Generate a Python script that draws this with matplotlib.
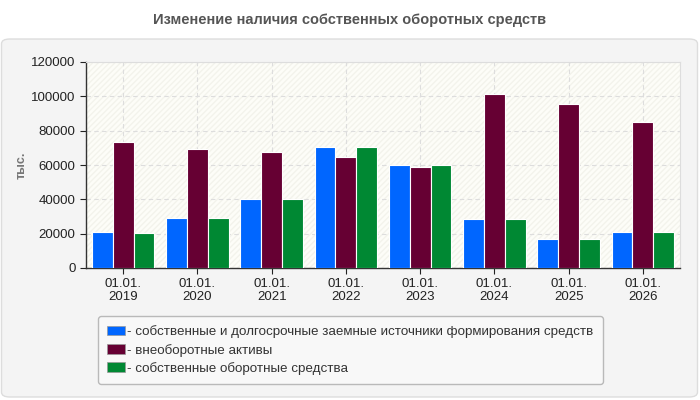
import numpy as np
import matplotlib.pyplot as plt
from matplotlib.patches import FancyBboxPatch, Rectangle, Patch

plt.rcParams['font.family'] = ['Liberation Sans', 'DejaVu Sans']

# data (тыс.)
dates = ['01.01.\n2019', '01.01.\n2020', '01.01.\n2021', '01.01.\n2022',
         '01.01.\n2023', '01.01.\n2024', '01.01.\n2025', '01.01.\n2026']
own_long_sources = [21200, 29300, 40400, 70700, 60200, 28700, 17100, 21200]
non_current_assets = [73600, 69500, 67800, 64900, 59000, 101600, 95700, 85300]
own_working_capital = [20600, 29300, 40400, 70700, 60200, 28700, 17100, 21200]

series_names = ['- собственные и долгосрочные заемные источники формирования средств',
                '- внеоборотные активы',
                '- собственные оборотные средства']
colors = ['#0066ff', '#660033', '#008833']

W, H = 700, 400
fig = plt.figure(figsize=(7, 4), dpi=100)

# outer panel
panel = FancyBboxPatch((1.5 / W, 3 / H), 696 / W, 358 / H,
                       boxstyle='round,pad=0,rounding_size=0.012',
                       transform=fig.transFigure, facecolor='#f4f4f4',
                       edgecolor='#dddddd', linewidth=1, zorder=-10)
fig.patches.append(panel)

fig.text(0.5, 1 - 20 / H, 'Изменение наличия собственных оборотных средств',
         ha='center', va='center', fontsize=10.5, fontweight='bold', color='#555555')

ax = fig.add_axes([86 / W, 1 - 268 / H, (680 - 86) / W, (268 - 62) / H])
ax.set_facecolor('#fdfdf8')
ax.add_patch(Rectangle((0, 0), 1, 1, transform=ax.transAxes, facecolor='none',
                       edgecolor='#f3f3ec', hatch='//////', linewidth=0, zorder=0))

x = np.arange(len(dates))
bw = 0.28
for i, (vals, c) in enumerate(zip([own_long_sources, non_current_assets, own_working_capital], colors)):
    ax.bar(x + (i - 1) * bw, vals, width=bw, color=c, edgecolor='white',
           linewidth=0.8, zorder=3)

ax.set_xlim(-0.5, len(dates) - 0.5)
ax.set_ylim(0, 120000)
ax.set_yticks(np.arange(0, 120001, 20000))
ax.set_xticks(x)
ax.set_xticklabels(dates, fontsize=9.5, color='#222222', linespacing=1.15)
ax.tick_params(axis='y', labelsize=9.5, colors='#222222', length=4, width=0.8)
ax.tick_params(axis='x', length=4, width=0.8, colors='#222222', pad=3)
ax.grid(True, color='#dddddd', linestyle=(0, (4, 3)), linewidth=0.8, zorder=1)
ax.set_axisbelow(True)
for s in ['top', 'right']:
    ax.spines[s].set_color('#dddddd')
for s in ['left', 'bottom']:
    ax.spines[s].set_color('#333333')
    ax.spines[s].set_linewidth(1)

fig.text(22 / W, 1 - 165 / H, 'тыс.', rotation=90, ha='center', va='center',
         fontsize=9, fontweight='bold', color='#777777')

handles = [Patch(facecolor=c, edgecolor='#999999', linewidth=0.5) for c in colors]
leg = fig.legend(handles, series_names, loc='upper left',
                 bbox_to_anchor=(98 / W, 1 - 316 / H), borderaxespad=0,
                 fontsize=9.6, frameon=True, handlelength=1.3, handleheight=0.7,
                 handletextpad=0.2, labelspacing=0.4, borderpad=0.7,
                 labelcolor='#333333', fancybox=True)
leg.get_frame().set_facecolor('#fafafa')
leg.get_frame().set_edgecolor('#aaaaaa')

fig.savefig('out.png', dpi=100)
